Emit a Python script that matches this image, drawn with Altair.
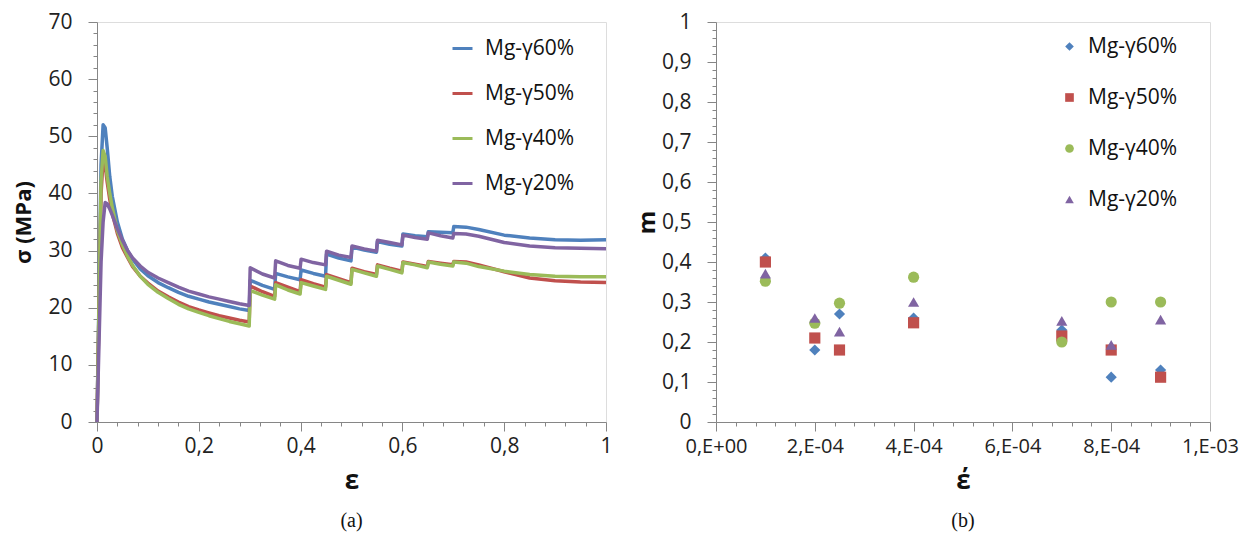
import altair as alt
import pandas as pd

# ---------------- data ----------------
series = ["Mg-γ60%", "Mg-γ50%", "Mg-γ40%", "Mg-γ20%"]
colors = ["#4F81BD", "#C0504D", "#9BBB59", "#8064A2"]
shapes = ["diamond", "square", "circle", "triangle-up"]

# (a) stress-strain curves
strain = [0.000, 0.004, 0.008, 0.012, 0.016, 0.020, 0.025, 0.030, 0.040, 0.050,
          0.060, 0.070, 0.085, 0.100, 0.120, 0.140, 0.160, 0.180, 0.200, 0.220,
          0.240, 0.260, 0.280, 0.299, 0.301, 0.325, 0.349, 0.351, 0.375, 0.399,
          0.401, 0.425, 0.449, 0.451, 0.475, 0.499, 0.501, 0.525, 0.549, 0.551,
          0.575, 0.599, 0.601, 0.625, 0.649, 0.651, 0.675, 0.699, 0.701, 0.725,
          0.750, 0.800, 0.850, 0.900, 0.950, 1.000]
stress_60 = [0, 22, 45, 52, 51.5, 48, 43, 39.5, 35, 32,
             30, 28.5, 26.8, 25.6, 24.4, 23.5, 22.7, 22.0, 21.5, 21.0,
             20.6, 20.2, 19.8, 19.5, 24.8, 23.9, 23.2, 26.0, 25.4, 24.9,
             26.6, 26.0, 25.5, 29.4, 28.7, 28.2, 30.6, 30.1, 29.7, 31.6,
             31.1, 30.8, 32.9, 32.6, 32.4, 33.3, 33.2, 33.1, 34.2, 34.1,
             33.7, 32.7, 32.2, 31.9, 31.8, 31.9]
stress_50 = [0, 20, 40, 46, 45, 42, 39, 36.5, 33, 30.5,
             28.8, 27.2, 25.5, 24.3, 22.9, 21.9, 21.0, 20.2, 19.6, 19.1,
             18.6, 18.2, 17.8, 17.5, 23.8, 22.8, 22.0, 24.4, 23.6, 22.8,
             24.9, 24.2, 23.6, 25.8, 25.1, 24.4, 26.9, 26.3, 25.8, 27.5,
             26.9, 26.4, 28.0, 27.6, 27.2, 28.1, 27.8, 27.5, 28.1, 28.0,
             27.5, 26.3, 25.2, 24.7, 24.5, 24.4]
stress_40 = [0, 21, 42, 47.5, 46.5, 43, 40, 37.5, 33.5, 31,
             29, 27.4, 25.5, 24.1, 22.7, 21.6, 20.6, 19.8, 19.2, 18.6,
             18.1, 17.6, 17.2, 16.8, 23.0, 22.2, 21.5, 24.0, 23.1, 22.4,
             24.4, 23.8, 23.2, 25.5, 24.8, 24.1, 26.7, 26.1, 25.5, 27.3,
             26.7, 26.1, 27.9, 27.5, 27.0, 28.0, 27.6, 27.3, 28.0, 27.8,
             27.2, 26.4, 25.8, 25.5, 25.4, 25.4]
stress_20 = [0, 14, 28, 35, 38.4, 38.2, 37.3, 36.2, 33.8, 31.8,
             30.0, 28.7, 27.3, 26.2, 25.2, 24.4, 23.6, 22.9, 22.4, 21.9,
             21.5, 21.1, 20.7, 20.4, 27.0, 25.9, 25.2, 28.2, 27.4, 26.9,
             28.5, 27.9, 27.5, 29.9, 29.2, 28.8, 30.8, 30.3, 29.9, 31.8,
             31.4, 31.0, 32.7, 32.3, 32.0, 33.1, 32.6, 32.2, 33.0, 32.9,
             32.5, 31.4, 30.8, 30.5, 30.4, 30.3]

# (b) strain-rate sensitivity
rate = [1e-4, 2e-4, 2.5e-4, 4e-4, 7e-4, 8e-4, 9e-4]
m_60 = [0.41, 0.18, 0.27, 0.26, 0.23, 0.112, 0.13]
m_50 = [0.40, 0.21, 0.18, 0.248, 0.215, 0.18, 0.112]
m_40 = [0.352, 0.247, 0.297, 0.362, 0.20, 0.30, 0.30]
m_20 = [0.371, 0.26, 0.226, 0.30, 0.253, 0.193, 0.256]

# axis ticks
strain_ticks = [round(i * 0.04, 2) for i in range(26)]
stress_ticks = list(range(0, 72, 2))
rate_ticks = [round(i * 0.4e-4, 7) for i in range(26)]
m_ticks = [round(i * 0.02, 2) for i in range(51)]
rate_major_labels = ["0,E+00", "2,E-04", "4,E-04", "6,E-04", "8,E-04", "1,E-03"]

# ---------------- tables ----------------
rows_a = []
for s, vals in zip(series, [stress_60, stress_50, stress_40, stress_20]):
    for i, (e, v) in enumerate(zip(strain, vals)):
        rows_a.append({"alloy": s, "idx": i, "strain": e, "stress": v})
df_a = pd.DataFrame(rows_a)

rows_b = []
for s, vals in zip(series, [m_60, m_50, m_40, m_20]):
    for r, v in zip(rate, vals):
        rows_b.append({"alloy_b": s, "rate": r, "m": v})
df_b = pd.DataFrame(rows_b)

FONT = "Open Sans"
GRAY = "#868686"
LBL = 21

def major_test(step):
    return f"abs(datum.value/{step} - round(datum.value/{step})) < 0.001"

def axis_common(**kw):
    base = dict(domainColor=GRAY, tickColor=GRAY, labelFont=FONT, labelFontSize=LBL,
                labelColor="#222", titleFont=FONT, titleColor="#111",
                titleFontWeight="bold", grid=False, labelOverlap=False,
                labelFlush=False)
    base.update(kw)
    return alt.Axis(**base)

# ---------------- (a) ----------------
xa = alt.X("strain:Q", scale=alt.Scale(domain=[0, 1], nice=False, zero=False),
           axis=axis_common(values=strain_ticks, title="ε", titleFontSize=26,
                            titlePadding=11, labelPadding=4,
                            tickSize={"condition": {"test": major_test(0.2), "value": 9}, "value": 4},
                            labelExpr=f"{major_test(0.2)} ? replace(format(datum.value, '~g'), '.', ',') : ''"))
ya = alt.Y("stress:Q", scale=alt.Scale(domain=[0, 70], nice=False),
           axis=axis_common(values=stress_ticks, title="σ (MPa)", titleFontSize=22,
                            titlePadding=12, labelPadding=16,
                            tickSize={"condition": {"test": major_test(10), "value": 9}, "value": 4},
                            labelExpr=f"{major_test(10)} ? datum.label : ''"))

chart_a = alt.Chart(df_a).mark_line(strokeWidth=3.5, strokeJoin="round").encode(
    x=xa, y=ya,
    color=alt.Color("alloy:N", scale=alt.Scale(domain=series, range=colors),
                    legend=alt.Legend(title=None, orient="none", legendX=354, legendY=15,
                                      symbolType="stroke", symbolSize=400, symbolStrokeWidth=3,
                                      labelFont=FONT, labelFontSize=LBL, labelColor="#111",
                                      labelOffset=11, rowPadding=23, padding=0)),
    order=alt.Order("idx:Q"),
).properties(width=509, height=400,
             title=alt.TitleParams("(a)", orient="bottom", font="Liberation Serif",
                                   fontSize=20, fontWeight="normal", anchor="middle",
                                   frame="group", offset=18, color="#111"))

# ---------------- (b) ----------------
xb = alt.X("rate:Q", scale=alt.Scale(domain=[0, 0.001], nice=False, zero=False),
           axis=axis_common(values=rate_ticks, title="έ", titleFontSize=26,
                            titlePadding=11, labelPadding=5, labelFontSize=20,
                            tickSize={"condition": {"test": major_test(0.0002), "value": 9}, "value": 4},
                            labelExpr=f"{major_test(0.0002)} ? {rate_major_labels}[round(datum.value/0.0002)] : ''"))
yb = alt.Y("m:Q", scale=alt.Scale(domain=[0, 1], nice=False),
           axis=axis_common(values=m_ticks, title="m", titleFontSize=24,
                            titlePadding=2, labelPadding=16,
                            tickSize={"condition": {"test": major_test(0.1), "value": 9}, "value": 4},
                            labelExpr=f"{major_test(0.1)} ? replace(format(datum.value, '~g'), '.', ',') : ''"))

chart_b = alt.Chart(df_b).mark_point(filled=True, opacity=1, size=125).encode(
    x=xb, y=yb,
    color=alt.Color("alloy_b:N", scale=alt.Scale(domain=series, range=colors),
                    legend=alt.Legend(title=None, orient="none", legendX=343, legendY=14,
                                      symbolSize=75, labelFont=FONT, labelFontSize=LBL,
                                      labelColor="#111", labelOffset=8, rowPadding=29,
                                      padding=0, symbolOpacity=1)),
    shape=alt.Shape("alloy_b:N", scale=alt.Scale(domain=series, range=shapes)),
).properties(width=494, height=400,
             title=alt.TitleParams("(b)", orient="bottom", font="Liberation Serif",
                                   fontSize=20, fontWeight="normal", anchor="middle",
                                   frame="group", offset=18, color="#111"))

chart = alt.hconcat(chart_a, chart_b, spacing=22).resolve_scale(
    color="independent", shape="independent").resolve_legend(
    color="independent", shape="independent").properties(
    padding={"left": 4, "top": 2, "right": 0, "bottom": 0}
).configure_view(stroke="#000", strokeWidth=1.2).configure(background="white")

chart.save("out.html", embed_options={"renderer": "svg", "actions": False})
